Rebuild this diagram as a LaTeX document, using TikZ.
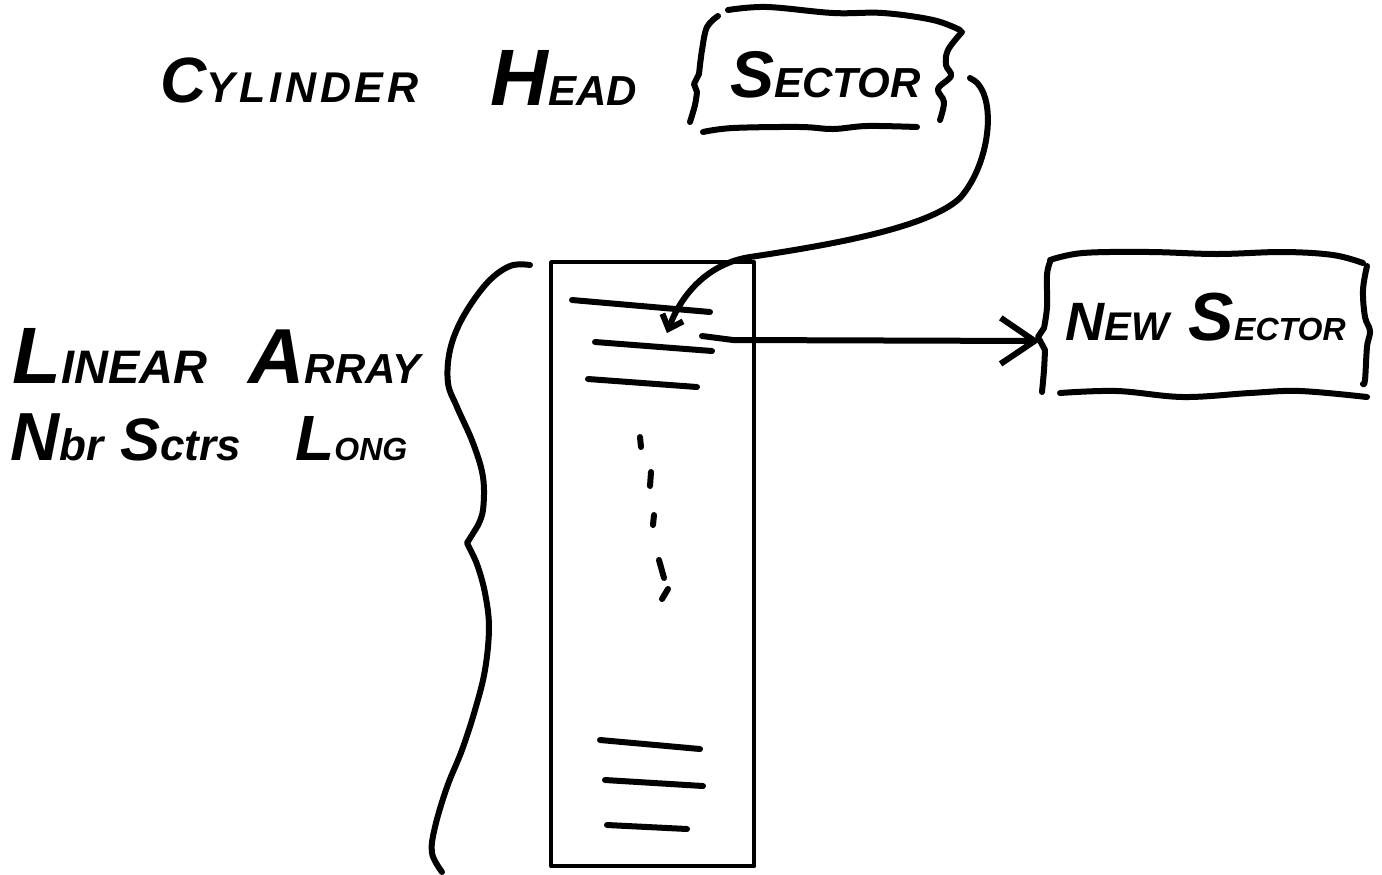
\documentclass[tikz,border=0pt]{standalone}
\usepackage{fontspec}
\usepackage{graphicx}
\usetikzlibrary{arrows.meta}
\newfontfamily\hand{Liberation Sans}
\newcommand\hsz[2]{{\fontsize{#1}{#1}\selectfont #2}}
\tikzset{
  pen/.style={line width=3pt, line cap=round, line join=round},
  boxline/.style={line width=2.2pt, line join=round},
  lbl/.style={anchor=base west, inner sep=0pt, font=\hand\bfseries\itshape},
}
\begin{document}
\begin{tikzpicture}[x=0.5pt, y=-0.5pt]
\useasboundingbox (0,0) rectangle (1382,874);

% ---- labels
\node[lbl] (cyl) at (160,102) {\hsz{32}{C}\hsz{21.5}{\addfontfeature{LetterSpace=9}YLINDER}};
\node[lbl] (head) at (490,105) {\hsz{40}{H}\hsz{21}{EAD}};
\node[lbl] (sector) at (730,97) {\hsz{33}{S}\hsz{21}{ECTOR}};
\node[lbl] (newsec) at (1065,340) {\hsz{27}{N}\hsz{20}{EW}\hspace{10pt}\hsz{34}{S}\hsz{16}{ECTOR}};
\node[lbl] (linear) at (12,383) {\hsz{40}{L}\hsz{23.5}{INEAR}};
\node[lbl] (arraytxt) at (248,383) {\hsz{39}{A}\hsz{21}{RRAY}};
\node[lbl] (nbr) at (10,460) {\hsz{34}{N}\hsz{22}{br}};
\node[lbl] (sctrs) at (120,460) {\hsz{30}{S}\hsz{22}{ctrs}};
\node[lbl] (long) at (295,460) {\hsz{32}{L}\hsz{16}{ONG}};

% ---- wavy frame round SECTOR
\draw[pen] plot[smooth, tension=0.6] coordinates {(728,10) (767,7) (833,13) (883,13) (933,20) (960,30)};
\draw[pen] plot[smooth, tension=0.6] coordinates {(962,32) (948,50) (946,65) (951,76) (938,89) (944,102) (940,120)};
\draw[pen] plot[smooth, tension=0.6] coordinates {(718,16) (707,27) (702,50) (699,74)} -- (694,84) --
           plot[smooth, tension=0.6] coordinates {(697,92) (695,105) (690,122)};
\draw[pen] plot[smooth, tension=0.6] coordinates {(703,132) (733,128) (800,127) (833,129) (867,126) (917,127)};

% ---- wavy frame round NEW SECTOR
\draw[pen] plot[smooth, tension=0.6] coordinates {(1050,260) (1083,253) (1150,252) (1217,254) (1283,252) (1333,255) (1363,263)};
\draw[pen] plot[smooth, tension=0.6] coordinates {(1367,266) (1363,290) (1365,317) (1370,331) (1367,347) (1365,380) (1363,384)};
\draw[pen] plot[smooth, tension=0.6] coordinates {(1050,262) (1047,275) (1047,307) (1044,328)} -- (1038,337) --
           plot[smooth, tension=0.6] coordinates {(1045,350) (1044,370) (1042,392)};
\draw[pen] plot[smooth, tension=0.6] coordinates {(1060,393) (1117,391) (1183,397) (1250,393) (1300,391) (1367,397)};

% ---- linear array
\node[draw, boxline, anchor=north west, inner sep=0pt, minimum width=101.5pt, minimum height=302pt] (arr) at (549,260) {};
\draw[pen] (572,300) -- (710,312);
\draw[pen] (595,342) -- (712,351);
\draw[pen] (588,379) -- (697,387);
\draw[pen] (640,437) -- (641,447);
\draw[pen] (651,472) -- (650,486);
\draw[pen] (654,515) -- (653,525);
\draw[pen] (659,560) -- (664,578);
\draw[pen] (668,589) -- (662,599);
\draw[pen] (600,740) -- (700,749);
\draw[pen] (605,780) -- (703,786);
\draw[pen] (607,825) -- (687,829);

% ---- big brace
\draw[pen] plot[smooth, tension=0.6] coordinates {(530,265) (510,266) (487,283) (463,317) (450,350) (448,383) (457,407) (473,443) (483,477) (483,510) (477,527)} -- (467,543) --
           plot[smooth, tension=0.6] coordinates {(472,553) (478,567) (485,593) (489,627) (485,670) (475,710) (462,750) (447,787) (435,827) (432,853) (442,872)};

% ---- connectors
\coordinate (secR) at (970,78);
\coordinate (arrTR) at (750,257);
\coordinate (slot2) at (667,333);
\coordinate (slot2R) at (702,336);
\coordinate (nsL) at (1040,341);
\draw[pen, -{Straight Barb[length=6pt, width=11pt]}]
  (secR) .. controls (998,90) and (992,162) .. (960,198)
         .. controls (928,228) and (830,245) .. (arrTR)
         .. controls (705,264) and (680,298) .. (slot2);
\draw[pen, -{Straight Barb[length=17pt, width=23pt]}] (slot2R) -- (733,340) -- (nsL);
\end{tikzpicture}
\end{document}
